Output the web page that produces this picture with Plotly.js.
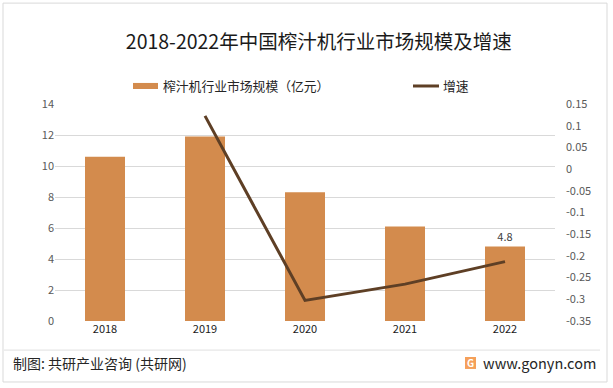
<!DOCTYPE html>
<html><head><meta charset="utf-8">
<script src="https://cdn.plot.ly/plotly-3.0.1.min.js"></script>
<style>html,body{margin:0;padding:0;background:#fff}#c{width:613px;height:388px}</style>
</head><body><div id="c"></div>
<script>
const years = ['2018','2019','2020','2021','2022'];
const marketSize = [10.6, 11.9, 8.3, 6.1, 4.8];
const growthYears = ['2019','2020','2021','2022'];
const growthRate = [0.1226, -0.3025, -0.2651, -0.2131];
const rightTickVals = [0.15,0.1,0.05,0,-0.05,-0.1,-0.15,-0.2,-0.25,-0.3,-0.35];
const rightTickText = ['0.15','0.1','0.05','0','-0.05','-0.1','-0.15','-0.2','-0.25','-0.3','-0.35'];
const labelText = ['','','','','4.8'];
const barName = '榨汁机行业市场规模（亿元）';
const lineName = '增速';
const barColor = '#D38B4D';
const lineColor = '#5E3F25';

const font = '"Noto Sans CJK SC", "Noto Sans", sans-serif';
const traces = [
  {type:'bar', x:years, y:marketSize, name:barName,
   marker:{color:barColor}, text:labelText, textposition:'outside',
   textfont:{size:11,color:'#404040',family:font}, cliponaxis:false, hoverinfo:'none'},
  {type:'scatter', mode:'lines', x:growthYears, y:growthRate, name:lineName, yaxis:'y2',
   line:{color:lineColor, width:3}}
];
const layout = {
  width:613, height:388,
  margin:{l:55, r:58, t:104, b:67},
  paper_bgcolor:'#fff', plot_bgcolor:'rgba(0,0,0,0)',
  font:{family:font, color:'#595959', size:11},
  title:{text:'2018-2022年中国榨汁机行业市场规模及增速', font:{size:19.5, color:'#1a1a1a', family:font},
         xref:'container', x:0.52, xanchor:'center', yref:'container', y:0.892, yanchor:'middle'},
  bargap:0.6,
  showlegend:false,
  xaxis:{type:'category', showgrid:false, showline:false, ticks:'', tickfont:{size:11,color:'#1a1a1a'}},
  yaxis:{range:[0,14], dtick:2, showgrid:true, gridcolor:'#D9D9D9', gridwidth:1, zeroline:false,
         showline:false, ticks:'', tickfont:{size:11,color:'#595959'}, fixedrange:true},
  yaxis2:{overlaying:'y', side:'right', range:[-0.35,0.15], tickvals:rightTickVals, ticktext:rightTickText,
          showgrid:false, zeroline:false, showline:false, ticks:'', ticklabelstandoff:10,
          tickfont:{size:11,color:'#595959'}},
  shapes:[
    {type:'rect', xref:'paper', yref:'paper', x0:-0.104, x1:1.104, y0:-0.281, y1:1.465,
     line:{color:'#D9D9D9', width:1}, fillcolor:'rgba(0,0,0,0)', layer:'below'},
    {type:'line', xref:'paper', yref:'paper', x0:-0.102, x1:1.09, y0:-0.134, y1:-0.134,
     line:{color:'#E0E0E0', width:1}},
    {type:'rect', xref:'paper', yref:'paper', x0:0.156, x1:0.206, y0:1.069, y1:1.097,
     line:{width:0}, fillcolor:barColor},
    {type:'line', xref:'paper', yref:'paper', x0:0.716, x1:0.768, y0:1.083, y1:1.083,
     line:{color:lineColor, width:3}},
    {type:'rect', xref:'paper', yref:'paper', x0:0.82, x1:0.842, y0:-0.166, y1:-0.221,
     line:{width:0}, fillcolor:'#F5A05A'}
  ],
  annotations:[
    {xref:'paper', yref:'paper', x:0.212, y:1.083, xanchor:'left', yanchor:'middle', showarrow:false,
     text:barName, font:{size:12.8, color:'#262626', family:font}},
    {xref:'paper', yref:'paper', x:0.772, y:1.083, xanchor:'left', yanchor:'middle', showarrow:false,
     text:lineName, font:{size:12.8, color:'#262626', family:font}},
    {xref:'paper', yref:'paper', x:-0.088, y:-0.1935, xanchor:'left', yanchor:'middle', showarrow:false,
     text:'制图: 共研产业咨询 (共研网)', font:{size:14, color:'#262626', family:font}},
    {xref:'paper', yref:'paper', x:1.086, y:-0.1935, xanchor:'right', yanchor:'middle', showarrow:false,
     text:'www.gonyn.com', font:{size:14.5, color:'#262626', family:font}},
    {xref:'paper', yref:'paper', x:0.831, y:-0.1935, xanchor:'center', yanchor:'middle', showarrow:false,
     text:'<b>G</b>', font:{size:10, color:'#fff', family:font}}
  ]
};
Plotly.newPlot('c', traces, layout, {displayModeBar:false, staticPlot:true});
</script></body></html>
